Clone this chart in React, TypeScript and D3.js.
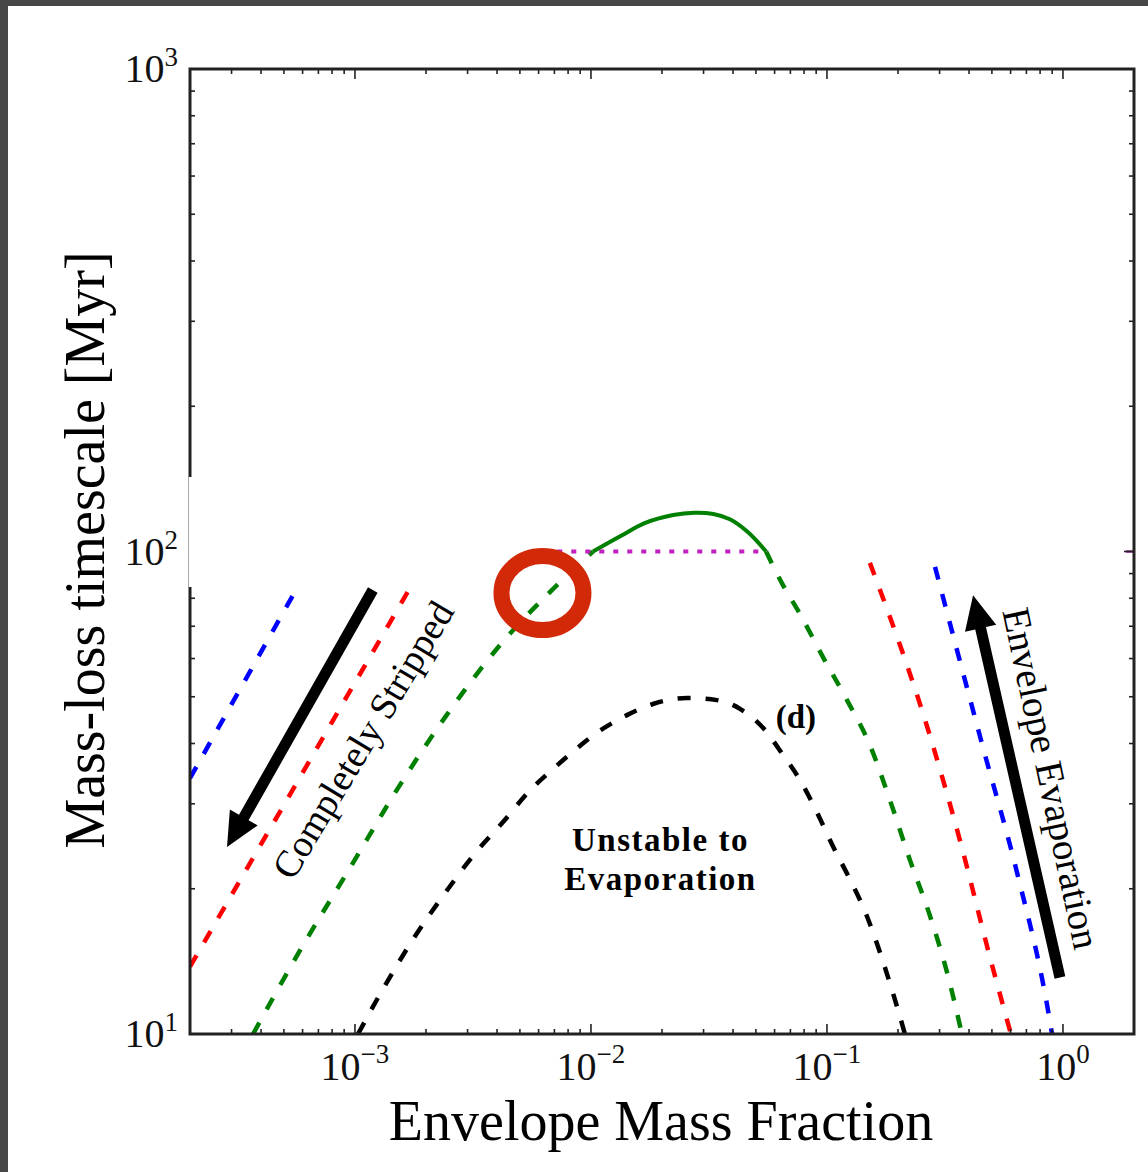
import React from 'react';
import * as d3 from 'd3';

// ---------- data ----------
const xDomain: [number, number] = [2e-4, 2];
const yDomain: [number, number] = [10, 1000];
const xTickExps = [-3, -2, -1, 0];
const yTickExps = [1, 2, 3];
const xTitle = 'Envelope Mass Fraction';
const yTitle = 'Mass-loss timescale [Myr]';

// left family (straight in log-log)
const blueLeft: [number, number][] = [[2.0e-4, 33.9], [5.68e-4, 84.0]];
const redLeft: [number, number][] = [[2.0e-4, 13.8], [1.71e-3, 84.0]];

// green curve: rising dashed, solid above 100 Myr, falling dashed
const greenRise: [number, number][] = [
  [3.7e-4, 10], [5.85e-4, 14.9], [9.53e-4, 22.1], [1.55e-3, 32.8], [2.53e-3, 46.9],
  [4.12e-3, 64.0], [6.7e-3, 82.4], [1.02e-2, 100],
];
const greenTop: [number, number][] = [
  [1.02e-2, 100], [1.33e-2, 107.5], [1.69e-2, 114.5], [2.23e-2, 119.0], [2.75e-2, 120.3],
  [3.3e-2, 119.6], [3.88e-2, 116.6], [4.62e-2, 109.7], [5.52e-2, 100],
];
const greenFall: [number, number][] = [
  [5.52e-2, 100], [6.51e-2, 85.2], [7.69e-2, 74.2], [9.62e-2, 60.4], [0.1216, 49.2],
  [0.152, 39.7], [0.185, 30.5], [0.225, 22.9], [0.274, 17.5], [0.323, 13.4], [0.373, 10],
];

// curve (d)
const blackD: [number, number][] = [
  [1.03e-3, 10], [1.34e-3, 12.6], [1.76e-3, 15.7], [2.41e-3, 19.6], [3.23e-3, 23.7],
  [4.24e-3, 27.5], [5.52e-3, 32.0], [6.9e-3, 35.4], [8.56e-3, 38.8], [1.09e-2, 42.5],
  [1.42e-2, 45.8], [1.83e-2, 48.3], [2.55e-2, 49.7], [3.42e-2, 49.2], [4.28e-2, 47.2],
  [5.36e-2, 43.1], [6.51e-2, 37.9], [7.69e-2, 33.6], [9.07e-2, 28.8], [0.106, 24.5],
  [0.1216, 21.5], [0.148, 17.5], [0.173, 14.1], [0.19, 12.2], [0.214, 10],
];

// right family
const redRight: [number, number][] = [
  [0.152, 94.7], [0.274, 41.3], [0.366, 25.2], [0.491, 14.4], [0.602, 10],
];
const blueRight: [number, number][] = [
  [0.287, 92.9], [0.458, 39.3], [0.639, 21.6], [0.856, 11.5], [0.899, 10],
];

// threshold line at 100 Myr
const magentaLine: [number, number][] = [[7.2e-3, 100], [5.6e-2, 100]];

// annotations (data coordinates)
const strippedArrow: [number, number][] = [[1.19e-3, 83.2], [2.87e-4, 24.4]];
const evapArrow: [number, number][] = [[0.971, 13.1], [0.416, 81.2]];
const strippedLabel = { text: 'Completely Stripped', x: 1.08e-3, y: 40.7, angle: -59 };
const evapLabel = { text: 'Envelope Evaporation', x: 0.895, y: 33.9, angle: 78 };
const unstableLines = [
  { text: 'Unstable to', x: 1.97e-2, y: 23.9 },
  { text: 'Evaporation', x: 1.97e-2, y: 19.9 },
];
const dLabel = { text: '(d)', x: 7.39e-2, y: 43.1 };
const circleMark = { x: 6.23e-3, y: 82.0 };

// ---------- layout ----------
const W = 1148;
const H = 1172;
const L = 190, R = 1134, T = 69, B = 1034;
const FONT = "'Liberation Serif', 'DejaVu Serif', serif";

const xScale = d3.scaleLog().domain(xDomain).range([L, R]);
const yScale = d3.scaleLog().domain(yDomain).range([B, T]);

const line = d3.line<[number, number]>()
  .x(d => xScale(d[0]))
  .y(d => yScale(d[1]))
  .curve(d3.curveMonotoneX);

const smoothLine = d3.line<[number, number]>()
  .x(d => xScale(d[0]))
  .y(d => yScale(d[1]))
  .curve(d3.curveCatmullRom.alpha(0.5));

function minorTicks(domain: [number, number]) {
  const out: number[] = [];
  const lo = Math.floor(Math.log10(domain[0]));
  const hi = Math.ceil(Math.log10(domain[1]));
  for (let e = lo; e <= hi; e++) {
    for (let k = 2; k <= 9; k++) {
      const v = k * Math.pow(10, e);
      if (v > domain[0] * 1.0001 && v < domain[1] * 0.9999) out.push(v);
    }
  }
  return out;
}

function arrowPoly(pts: [number, number][], shaftW: number, headW: number, headL: number) {
  const x0 = xScale(pts[0][0]), y0 = yScale(pts[0][1]);
  const x1 = xScale(pts[1][0]), y1 = yScale(pts[1][1]);
  const len = Math.hypot(x1 - x0, y1 - y0);
  const ux = (x1 - x0) / len, uy = (y1 - y0) / len;
  const nx = -uy, ny = ux;
  const bx = x1 - ux * headL, by = y1 - uy * headL;
  const p = [
    [x0 + nx * shaftW / 2, y0 + ny * shaftW / 2],
    [bx + nx * shaftW / 2, by + ny * shaftW / 2],
    [bx + nx * headW / 2, by + ny * headW / 2],
    [x1, y1],
    [bx - nx * headW / 2, by - ny * headW / 2],
    [bx - nx * shaftW / 2, by - ny * shaftW / 2],
    [x0 - nx * shaftW / 2, y0 - ny * shaftW / 2],
  ];
  return p.map(q => q.join(',')).join(' ');
}

export default function App() {
  const xMinor = minorTicks(xDomain);
  const yMinor = minorTicks(yDomain);
  const xMajor = xTickExps.map(e => Math.pow(10, e));
  const yMajor = yTickExps.map(e => Math.pow(10, e));
  const dash = '13 15';
  const lw = 4.5;

  return (
    <svg width={W} height={H} style={{ position: 'absolute', left: 0, top: 0 }}
      xmlns="http://www.w3.org/2000/svg">
      <defs>
        <clipPath id="plotClip">
          <rect x={L} y={T} width={R - L} height={B - T} />
        </clipPath>
      </defs>
      <rect x={0} y={0} width={W} height={H} fill="#474747" />
      <rect x={8} y={6} width={W - 8} height={H - 6} fill="#ffffff" />

      {/* curves */}
      <g clipPath="url(#plotClip)" fill="none" strokeLinecap="butt">
        <path d={line(blueLeft) || ''} stroke="#0000ff" strokeWidth={lw} strokeDasharray={dash} />
        <path d={line(redLeft) || ''} stroke="#ff0000" strokeWidth={lw} strokeDasharray={dash} />
        <path d={line(greenRise) || ''} stroke="#008000" strokeWidth={lw} strokeDasharray={dash} />
        <path d={smoothLine(greenTop) || ''} stroke="#008000" strokeWidth={4} />
        <path d={line(greenFall) || ''} stroke="#008000" strokeWidth={lw} strokeDasharray={dash} />
        <path d={line(blackD) || ''} stroke="#000000" strokeWidth={lw} strokeDasharray={dash} />
        <path d={line(redRight) || ''} stroke="#ff0000" strokeWidth={lw} strokeDasharray={dash} />
        <path d={line(blueRight) || ''} stroke="#0000ff" strokeWidth={lw} strokeDasharray={dash} />
        <path d={line(magentaLine) || ''} stroke="#c020c0" strokeWidth={4} strokeDasharray="5 9" />
        <line x1={R - 8} x2={R} y1={yScale(100)} y2={yScale(100)} stroke="#c060c0" strokeWidth={3} />
      </g>

      {/* arrows */}
      <polygon points={arrowPoly(strippedArrow, 11, 32, 34)} fill="#000" />
      <polygon points={arrowPoly(evapArrow, 11, 32, 34)} fill="#000" />

      {/* annotation texts */}
      <text x={xScale(strippedLabel.x)} y={yScale(strippedLabel.y)} fontFamily={FONT} fontSize={38}
        textAnchor="middle" dominantBaseline="central"
        transform={`rotate(${strippedLabel.angle} ${xScale(strippedLabel.x)} ${yScale(strippedLabel.y)})`}>
        {strippedLabel.text}
      </text>
      <text x={xScale(evapLabel.x)} y={yScale(evapLabel.y)} fontFamily={FONT} fontSize={39}
        textAnchor="middle" dominantBaseline="central"
        transform={`rotate(${evapLabel.angle} ${xScale(evapLabel.x)} ${yScale(evapLabel.y)})`}>
        {evapLabel.text}
      </text>
      {unstableLines.map((u, i) => (
        <text key={i} x={xScale(u.x)} y={yScale(u.y)} fontFamily={FONT} fontSize={33}
          fontWeight="bold" letterSpacing={1.5} textAnchor="middle">{u.text}</text>
      ))}
      <text x={xScale(dLabel.x)} y={yScale(dLabel.y)} fontFamily={FONT} fontSize={33}
        fontWeight="bold" textAnchor="middle">{dLabel.text}</text>

      {/* red marker circle */}
      <ellipse cx={xScale(circleMark.x)} cy={yScale(circleMark.y)} rx={41} ry={37}
        fill="none" stroke="#d22a08" strokeWidth={16} />

      {/* ticks: inward on all sides */}
      <g stroke="#222" strokeWidth={1.6}>
        {xMajor.map((v, i) => (
          <g key={'xM' + i}>
            <line x1={xScale(v)} x2={xScale(v)} y1={B} y2={B - 10} />
            <line x1={xScale(v)} x2={xScale(v)} y1={T} y2={T + 10} />
          </g>
        ))}
        {xMinor.map((v, i) => (
          <g key={'xm' + i}>
            <line x1={xScale(v)} x2={xScale(v)} y1={B} y2={B - 5} />
            <line x1={xScale(v)} x2={xScale(v)} y1={T} y2={T + 5} />
          </g>
        ))}
        {yMajor.map((v, i) => (
          <g key={'yM' + i}>
            <line x1={L} x2={L + 10} y1={yScale(v)} y2={yScale(v)} />
            <line x1={R} x2={R - 10} y1={yScale(v)} y2={yScale(v)} />
          </g>
        ))}
        {yMinor.map((v, i) => (
          <g key={'ym' + i}>
            <line x1={L} x2={L + 5} y1={yScale(v)} y2={yScale(v)} />
            <line x1={R} x2={R - 5} y1={yScale(v)} y2={yScale(v)} />
          </g>
        ))}
      </g>

      {/* frame */}
      <rect x={L} y={T} width={R - L} height={B - T} fill="none" stroke="#222" strokeWidth={3} />
      {/* masked gap on the left spine */}
      <rect x={L - 1.5} y={477} width={12} height={110} fill="#fff" />
      <line x1={L - 1.5} x2={L - 1.5} y1={477} y2={587} stroke="#aaa" strokeWidth={1} />

      {/* tick labels */}
      {yTickExps.map((e, i) => (
        <text key={'yl' + i} x={178} y={yScale(Math.pow(10, e)) + 13} fontFamily={FONT}
          fontSize={40} textAnchor="end" fill="#111">
          10<tspan dy={-16} fontSize={27}>{e}</tspan>
        </text>
      ))}
      {xTickExps.map((e, i) => (
        <text key={'xl' + i} x={xScale(Math.pow(10, e))} y={1080} fontFamily={FONT}
          fontSize={40} textAnchor="middle" fill="#111">
          10<tspan dy={-17} fontSize={27}>{e < 0 ? '\u2212' + Math.abs(e) : String(e)}</tspan>
        </text>
      ))}

      {/* axis titles */}
      <text x={661} y={1140} fontFamily={FONT} fontSize={56} textAnchor="middle">
        {xTitle}
      </text>
      <text x={0} y={0} fontFamily={FONT} fontSize={56} textAnchor="middle"
        transform={`translate(104, 550) rotate(-90)`}>
        {yTitle}
      </text>
    </svg>
  );
}
